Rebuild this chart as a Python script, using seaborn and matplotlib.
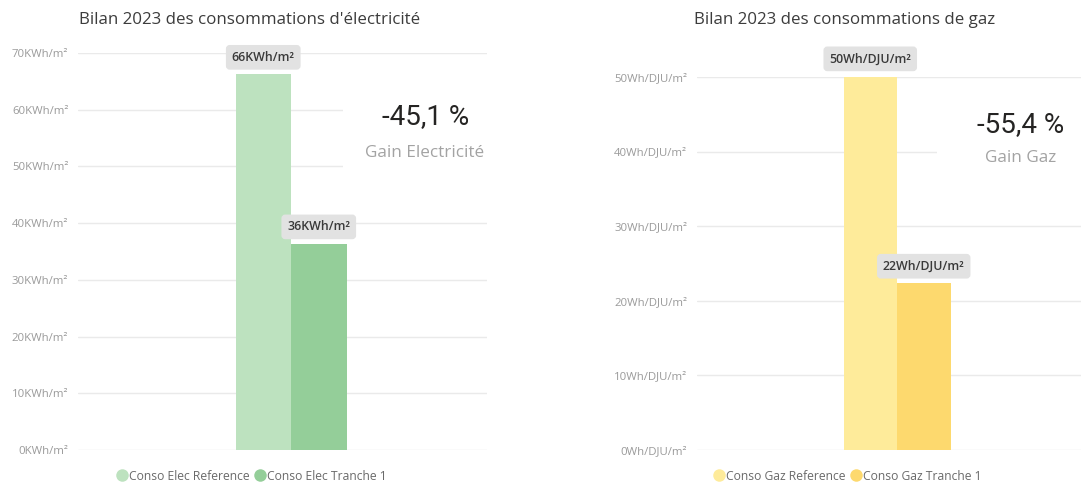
import matplotlib
matplotlib.use("Agg")
import matplotlib.pyplot as plt
from matplotlib.patches import Rectangle
from matplotlib.lines import Line2D
import seaborn as sns
import pandas as pd

# ---- data ----
elec_series = ["Conso Elec Reference", "Conso Elec Tranche 1"]
elec_values = [66.3, 36.4]
elec_colors = ["#BDE2BF", "#94CE99"]
elec_ticks = [0, 10, 20, 30, 40, 50, 60, 70]
elec_unit = "KWh/m²"
elec_title = "Bilan 2023 des consommations d'électricité"
elec_gain_label = "Gain Electricité"

gaz_series = ["Conso Gaz Reference", "Conso Gaz Tranche 1"]
gaz_values = [50.2, 22.4]
gaz_colors = ["#FEEB9A", "#FDD96E"]
gaz_ticks = [0, 10, 20, 30, 40, 50]
gaz_unit = "Wh/DJU/m²"
gaz_title = "Bilan 2023 des consommations de gaz"
gaz_gain_label = "Gain Gaz"

periode = "2023"

# ---- figure ----
W, H = 1081, 484
sns.set_theme(style="white")
plt.rcParams["font.family"] = ["Open Sans", "DejaVu Sans"]
fig = plt.figure(figsize=(W / 100, H / 100), dpi=100)
fig.patch.set_facecolor("white")


def box(l, r, t, b):
    return [l / W, 1 - b / H, (r - l) / W, (b - t) / H]


def gain_text(values):
    g = (values[1] / values[0] - 1) * 100
    return f"{g:.1f}".replace(".", ",") + " %"


def panel(rect, series, values, colors, ticks, unit, title,
          axis_left_px, group_center_px, group_width_px, axis_width_px,
          title_xy, legend_x, mask, kpi_xy, sub_xy, gain_label):
    ax = fig.add_axes(rect)
    df = pd.DataFrame({"periode": [periode] * len(series),
                       "serie": series, "valeur": values})
    sns.barplot(data=df, x="periode", y="valeur", hue="serie",
                palette=colors, saturation=1, width=0.8, ax=ax,
                legend=False, zorder=3, linewidth=0, edgecolor="none")
    unit_px = group_width_px / 0.8
    left = -(group_center_px - axis_left_px) / unit_px
    ax.set_xlim(left, left + axis_width_px / unit_px)
    ax.set_ylim(ticks[0], ticks[-1])
    ax.set_yticks(ticks)
    ax.set_yticklabels([f"{t}{unit}" for t in ticks])
    ax.tick_params(axis="y", length=0, pad=7, labelsize=8.2,
                   labelcolor="#9A9A9A")
    ax.set_xticks([])
    ax.set_xlabel("")
    ax.set_ylabel("")
    for s in ax.spines.values():
        s.set_visible(False)
    ax.yaxis.grid(True, color="#EAEAEA", linewidth=1.0)
    ax.set_axisbelow(True)

    # value tags above each bar
    for cont in ax.containers:
        for bar in cont:
            v = bar.get_height()
            ax.annotate(f"{v:.0f}{unit}",
                        xy=(bar.get_x() + bar.get_width() / 2, v),
                        xytext=(0, 12), textcoords="offset points",
                        ha="center", va="center", fontsize=8.9,
                        color="#3A3A3A", fontweight="semibold",
                        annotation_clip=False, zorder=6,
                        bbox=dict(boxstyle="round,pad=0.36,rounding_size=0.2",
                                  fc="#E2E2E2", ec="#E2E2E2", lw=2))

    fig.text(title_xy[0] / W, 1 - title_xy[1] / H, title, ha="left",
             va="center", fontsize=12.2, color="#3C3C3C")

    handles = [Line2D([], [], marker="o", linestyle="none", markersize=9,
                      markerfacecolor=c, markeredgecolor="none") for c in colors]
    fig.legend(handles, series, loc="center left",
               bbox_to_anchor=(legend_x / W, 1 - 476 / H), ncol=2,
               frameon=False, fontsize=8.7, labelcolor="#6A6A6A",
               handletextpad=0.05, columnspacing=0.4, handlelength=1.0,
               borderaxespad=0, borderpad=0)

    # KPI card
    ml, mr, mt, mb = mask
    fig.add_artist(Rectangle((ml / W, 1 - mb / H), (mr - ml) / W, (mb - mt) / H,
                             transform=fig.transFigure, facecolor="white",
                             edgecolor="none", zorder=1))
    fig.text(kpi_xy[0] / W, 1 - kpi_xy[1] / H, gain_text(values),
             ha="center", va="center", fontsize=20, color="#252423",
             family=["Roboto", "DejaVu Sans"], zorder=2)
    fig.text(sub_xy[0] / W, 1 - sub_xy[1] / H, gain_label,
             ha="center", va="center", fontsize=12.3, color="#A3A3A3",
             zorder=2)
    return ax


panel(box(78, 487, 53, 450), elec_series, elec_values, elec_colors,
      elec_ticks, elec_unit, elec_title,
      axis_left_px=78, group_center_px=291, group_width_px=111,
      axis_width_px=409, title_xy=(79, 20), legend_x=116,
      mask=(343, 500, 85, 195), kpi_xy=(426, 117), sub_xy=(425, 153),
      gain_label=elec_gain_label)

panel(box(697, 1081, 77, 450), gaz_series, gaz_values, gaz_colors,
      gaz_ticks, gaz_unit, gaz_title,
      axis_left_px=697, group_center_px=897, group_width_px=107,
      axis_width_px=384, title_xy=(694, 20), legend_x=713,
      mask=(937, 1081, 95, 200), kpi_xy=(1021, 125), sub_xy=(1021, 158),
      gain_label=gaz_gain_label)

fig.savefig("out.png", dpi=100)
